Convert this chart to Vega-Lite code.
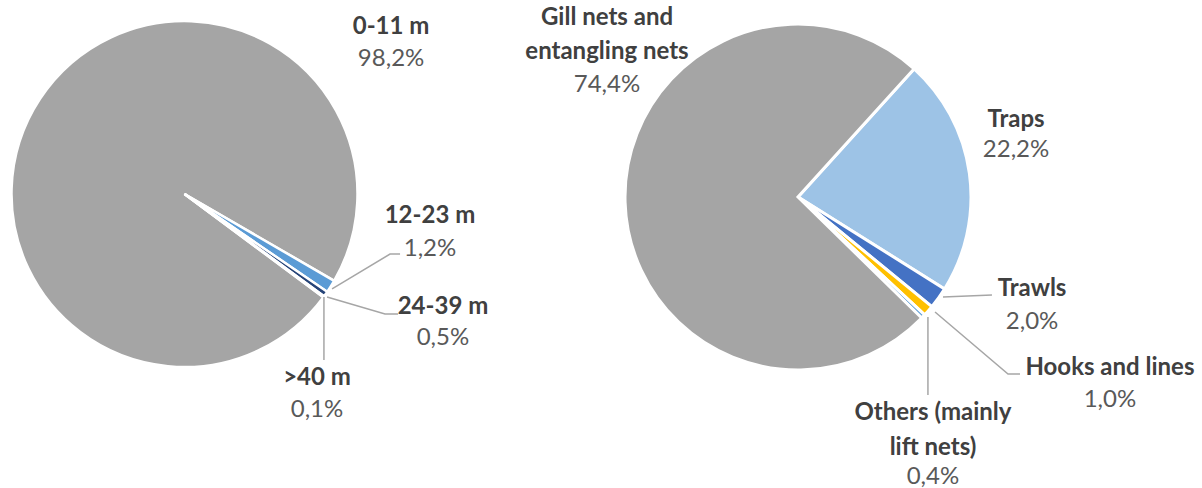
{
  "$schema": "https://vega.github.io/schema/vega-lite/v6.json",
  "padding": 0,
  "spacing": 25,
  "bounds": "flush",
  "config": {"view": {"stroke": null}},
  "datasets": {
    "left": [
      {"slice": "0-11 m", "value": 98.2, "pct": "98,2%", "ord": 1, "lx": 119.4, "ly": 78.0, "ny": 96.5},
      {"slice": "12-23 m", "value": 1.2, "pct": "1,2%", "ord": 2, "lx": 141.9, "ly": -31.8, "ny": -12.7},
      {"slice": "24-39 m", "value": 0.5, "pct": "0,5%", "ord": 3, "lx": 149.4, "ly": -83.2, "ny": -65.3},
      {"slice": ">40 m", "value": 0.1, "pct": "0,1%", "ord": 4, "lx": 76.6, "ly": -124.9, "ny": -106.4}
    ],
    "leftLeaders": [
      {"slice": "12-23 m", "i": 1, "x": 85.3, "y": -54.9},
      {"slice": "12-23 m", "i": 2, "x": 118.8, "y": -34.7},
      {"slice": "12-23 m", "i": 3, "x": 124.6, "y": -34.7},
      {"slice": "24-39 m", "i": 1, "x": 82.4, "y": -59.5},
      {"slice": "24-39 m", "i": 2, "x": 115.9, "y": -69.4},
      {"slice": "24-39 m", "i": 3, "x": 123.4, "y": -69.4},
      {"slice": ">40 m", "i": 1, "x": 80.6, "y": -59.5},
      {"slice": ">40 m", "i": 2, "x": 80.6, "y": -96.0}
    ],
    "right": [
      {"slice": "Traps", "value": 22.2, "pct": "22,2%", "ord": 1, "lx": 126.0, "ly": 27.2, "ny": 44.5},
      {"slice": "Trawls", "value": 2.0, "pct": "2,0%", "ord": 2, "lx": 135.3, "ly": -72.3, "ny": -53.2},
      {"slice": "Hooks and lines", "value": 1.0, "pct": "1,0%", "ord": 3, "lx": 180.3, "ly": -117.3, "ny": -98.8},
      {"slice": "Others (mainly\nlift nets)", "value": 0.4, "pct": "0,4%", "ord": 4, "lx": 78.0, "ly": -162.0, "ny": -124.9},
      {"slice": "Gill nets and\nentangling nets", "value": 74.4, "pct": "74,4%", "ord": 5, "lx": -110.4, "ly": 64.7, "ny": 103.5}
    ],
    "rightLeaders": [
      {"slice": "Trawls", "i": 1, "x": 83.8, "y": -57.8},
      {"slice": "Trawls", "i": 2, "x": 112.1, "y": -56.6},
      {"slice": "Hooks and lines", "i": 1, "x": 79.2, "y": -66.5},
      {"slice": "Hooks and lines", "i": 2, "x": 121.4, "y": -102.3},
      {"slice": "Hooks and lines", "i": 3, "x": 128.3, "y": -102.3},
      {"slice": "Others", "i": 1, "x": 75.1, "y": -69.4},
      {"slice": "Others", "i": 2, "x": 75.1, "y": -114.5}
    ]
  },
  "resolve": {"scale": {"color": "independent", "theta": "independent", "x": "independent", "y": "independent"}},
  "hconcat": [
    {
      "width": 369,
      "height": 388,
      "layer": [
        {
          "data": {"name": "left"},
          "mark": {"type": "arc", "outerRadius": 173, "stroke": "white", "strokeWidth": 2.5},
          "encoding": {
            "theta": {"field": "value", "type": "quantitative", "stack": true, "scale": {"range": [2.2096, 8.4928]}},
            "order": {"field": "ord", "type": "quantitative"},
            "color": {"field": "slice", "type": "nominal", "legend": null,
              "scale": {"domain": ["0-11 m", "12-23 m", "24-39 m", ">40 m"], "range": ["#A5A5A5", "#5B9BD5", "#264478", "#7F7F7F"]}}
          }
        },
        {
          "data": {"name": "leftLeaders"},
          "mark": {"type": "line", "color": "#A6A6A6", "strokeWidth": 1.5},
          "encoding": {
            "x": {"field": "x", "type": "quantitative", "axis": null, "scale": {"domain": [-106.65, 106.65], "nice": false, "zero": false}},
            "y": {"field": "y", "type": "quantitative", "axis": null, "scale": {"domain": [-112.14, 112.14], "nice": false, "zero": false}},
            "detail": {"field": "slice", "type": "nominal"},
            "order": {"field": "i", "type": "quantitative"}
          }
        },
        {
          "data": {"name": "left"},
          "mark": {"type": "text", "font": "Lato", "fontSize": 24, "fontWeight": "bold", "color": "#404040", "baseline": "middle", "lineBreak": "\n", "lineHeight": 34.5},
          "encoding": {
            "x": {"field": "lx", "type": "quantitative", "axis": null, "scale": {"domain": [-106.65, 106.65], "nice": false, "zero": false}},
            "y": {"field": "ny", "type": "quantitative", "axis": null, "scale": {"domain": [-112.14, 112.14], "nice": false, "zero": false}},
            "text": {"field": "slice", "type": "nominal"}
          }
        },
        {
          "data": {"name": "left"},
          "mark": {"type": "text", "font": "Lato", "fontSize": 24, "color": "#595959", "baseline": "middle"},
          "encoding": {
            "x": {"field": "lx", "type": "quantitative", "axis": null, "scale": {"domain": [-106.65, 106.65], "nice": false, "zero": false}},
            "y": {"field": "ly", "type": "quantitative", "axis": null, "scale": {"domain": [-112.14, 112.14], "nice": false, "zero": false}},
            "text": {"field": "pct", "type": "nominal"}
          }
        }
      ]
    },
    {
      "width": 808,
      "height": 394,
      "layer": [
        {
          "data": {"name": "right"},
          "mark": {"type": "arc", "outerRadius": 173, "stroke": "white", "strokeWidth": 3},
          "encoding": {
            "theta": {"field": "value", "type": "quantitative", "stack": true, "scale": {"range": [0.7365, 7.0197]}},
            "order": {"field": "ord", "type": "quantitative"},
            "color": {"field": "slice", "type": "nominal", "legend": null,
              "scale": {"domain": ["Traps", "Trawls", "Hooks and lines", "Others (mainly\nlift nets)", "Gill nets and\nentangling nets"], "range": ["#9DC3E6", "#4472C4", "#FFC000", "#5B9BD5", "#A5A5A5"]}}
          }
        },
        {
          "data": {"name": "rightLeaders"},
          "mark": {"type": "line", "color": "#A6A6A6", "strokeWidth": 1.5},
          "encoding": {
            "x": {"field": "x", "type": "quantitative", "axis": null, "scale": {"domain": [-233.5, 233.5], "nice": false, "zero": false}},
            "y": {"field": "y", "type": "quantitative", "axis": null, "scale": {"domain": [-113.87, 113.87], "nice": false, "zero": false}},
            "detail": {"field": "slice", "type": "nominal"},
            "order": {"field": "i", "type": "quantitative"}
          }
        },
        {
          "data": {"name": "right"},
          "mark": {"type": "text", "font": "Lato", "fontSize": 24, "fontWeight": "bold", "color": "#404040", "baseline": "middle", "lineBreak": "\n", "lineHeight": 34.5},
          "encoding": {
            "x": {"field": "lx", "type": "quantitative", "axis": null, "scale": {"domain": [-233.5, 233.5], "nice": false, "zero": false}},
            "y": {"field": "ny", "type": "quantitative", "axis": null, "scale": {"domain": [-113.87, 113.87], "nice": false, "zero": false}},
            "text": {"field": "slice", "type": "nominal"}
          }
        },
        {
          "data": {"name": "right"},
          "mark": {"type": "text", "font": "Lato", "fontSize": 24, "color": "#595959", "baseline": "middle"},
          "encoding": {
            "x": {"field": "lx", "type": "quantitative", "axis": null, "scale": {"domain": [-233.5, 233.5], "nice": false, "zero": false}},
            "y": {"field": "ly", "type": "quantitative", "axis": null, "scale": {"domain": [-113.87, 113.87], "nice": false, "zero": false}},
            "text": {"field": "pct", "type": "nominal"}
          }
        }
      ]
    }
  ]
}
